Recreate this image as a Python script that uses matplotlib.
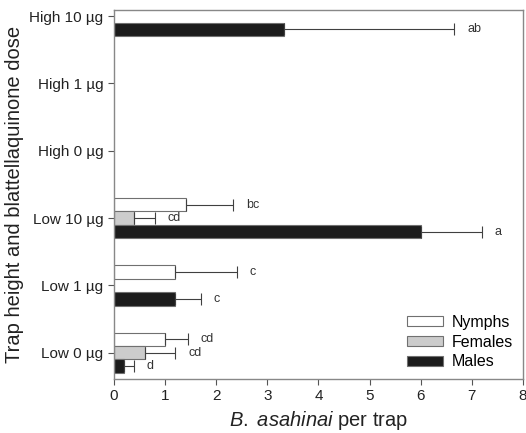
import numpy as np
import matplotlib
matplotlib.use("Agg")
import matplotlib.pyplot as plt

plt.rcParams['font.family'] = ['Liberation Sans', 'DejaVu Sans']
plt.rcParams['mathtext.fontset'] = 'custom'
plt.rcParams['mathtext.rm'] = 'Liberation Sans'
plt.rcParams['mathtext.it'] = 'Liberation Sans:italic'

# Kategoriler (aşağıdan yukarıya)
categories = ["Low 0 µg", "Low 1 µg", "Low 10 µg", "High 0 µg", "High 1 µg", "High 10 µg"]

# Ortalamalar ve standart hatalar
nymphs = [1.0, 1.2, 1.4, 0, 0, 0]
nymphs_err = [0.45, 1.2, 0.93, 0, 0, 0]
females = [0.6, 0, 0.4, 0, 0, 0]
females_err = [0.6, 0, 0.4, 0, 0, 0]
males = [0.2, 1.2, 6.0, 0, 0, 3.33]
males_err = [0.19, 0.5, 1.2, 0, 0, 3.33]

# Harf etiketleri (boş = yok)
nymphs_lbl = ["cd", "c", "bc", "", "", ""]
females_lbl = ["cd", "", "cd", "", "", ""]
males_lbl = ["d", "c", "a", "", "", "ab"]

y = np.arange(len(categories))
h = 0.2
edge = "#707070"

fig = plt.figure(figsize=(5.26, 4.33), dpi=100)
ax = fig.add_axes([0.2167, 0.1247, 0.7776, 0.8523])

series = [
    ("Nymphs", nymphs, nymphs_err, nymphs_lbl, "white", h),
    ("Females", females, females_err, females_lbl, "#cccccc", 0),
    ("Males", males, males_err, males_lbl, "#1c1c1c", -h),
]

for name, vals, errs, lbls, col, off in series:
    vals = np.array(vals, dtype=float)
    errs = np.array(errs, dtype=float)
    mask = vals > 0
    yy = (y + off)[mask]
    ax.barh(yy, vals[mask], height=h, color=col, edgecolor=edge, linewidth=0.8, label=name)
    ax.errorbar(vals[mask], yy, xerr=[np.zeros(mask.sum()), errs[mask]],
                fmt="none", ecolor="#404040", elinewidth=0.8, capsize=4, capthick=0.8)
    for yi, v, e, l in zip(y + off, vals, errs, lbls):
        if l:
            ax.text(v + e + 0.25, yi, l, va="center", ha="left", fontsize=9, color="#333333")

ax.set_xlim(0, 8)
ax.set_ylim(-0.39, 5.09)
ax.set_yticks(y)
ax.set_yticklabels(categories, fontsize=11, color="#222222")
ax.set_xticks(range(0, 9))
ax.tick_params(axis="x", labelsize=11, colors="#222222")
ax.tick_params(direction="out", length=4, color="#555555")
for s in ax.spines.values():
    s.set_color("#888888")
    s.set_linewidth(1.0)

ax.set_xlabel(r"$\mathit{B.\ asahinai}$ per trap", fontsize=14.5, color="#222222")
ax.set_ylabel("Trap height and blattellaquinone dose", fontsize=14.5, color="#222222")

ax.legend(loc="lower right", bbox_to_anchor=(1.0, 0.0), frameon=False, fontsize=11.5,
          handlelength=2.2, handleheight=0.6, labelspacing=0.3, handletextpad=0.6,
          borderaxespad=0.2)

plt.savefig("out.png", dpi=100)
